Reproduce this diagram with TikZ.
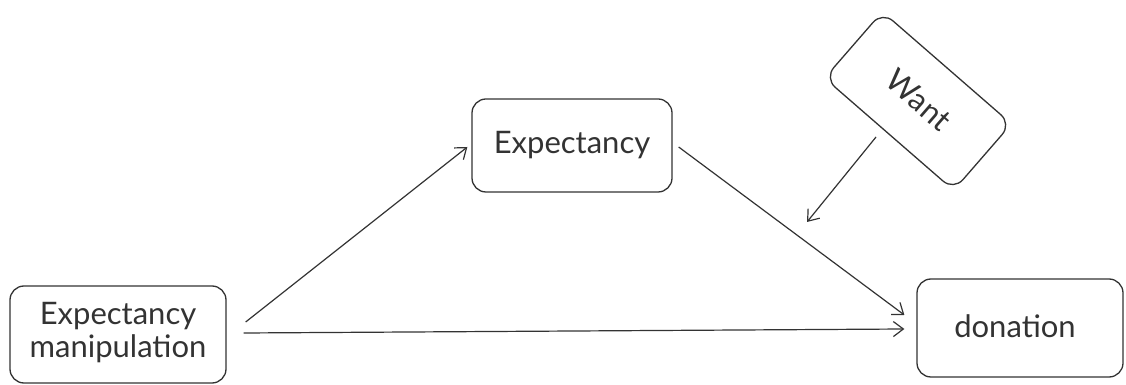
\documentclass[tikz,border=0pt]{standalone}
\usepackage{fontspec}
\setmainfont{Lato}
\usetikzlibrary{arrows.meta}
\definecolor{ink}{HTML}{333333}
\begin{document}
\begin{tikzpicture}[x=1pt,y=1pt,
  box/.style={draw=ink, line width=1.3pt, rounded corners=14pt, inner sep=0pt,
    align=center, text=ink, font=\fontsize{31}{35}\selectfont},
  arr/.style={draw=ink, line width=1.2pt,
    -{Straight Barb[length=10pt,width=15pt,line width=1.2pt]}}]
\useasboundingbox[fill=white] (0,0) rectangle (1126,385);
\node[box, minimum width=216pt, minimum height=97pt] (em) at (118,50.5)
  {\raisebox{5pt}{\begin{tabular}{@{}c@{}}Expectancy\\[-2pt]manipulation\end{tabular}}};
\node[box, minimum width=200pt, minimum height=93pt] (ex) at (572,239.5) {Expectancy};
\node[box, minimum width=206pt, minimum height=98pt] (don) at (1020,57)
  {\raisebox{4pt}{donation}\hspace*{10pt}};
\node[box, minimum width=171pt, minimum height=88pt, rotate=-41] (want) at (918,284)
  {\raisebox{3pt}{Want}};
\coordinate (mod) at (807,163);
\draw[arr] ([shift={(19,12.5)}]em.east) -- ([shift={(-4,-1.5)}]ex.west);
\draw[arr] ([shift={(17,1.5)}]em.east) -- ([shift={(-12,-1)}]don.west);
\draw[arr] ([shift={(6,-1.5)}]ex.east) -- ([shift={(-12,13)}]don.west);
\draw[arr] ([shift={(-12.7,-2.3)}]want.south) -- (mod);
\end{tikzpicture}
\end{document}
